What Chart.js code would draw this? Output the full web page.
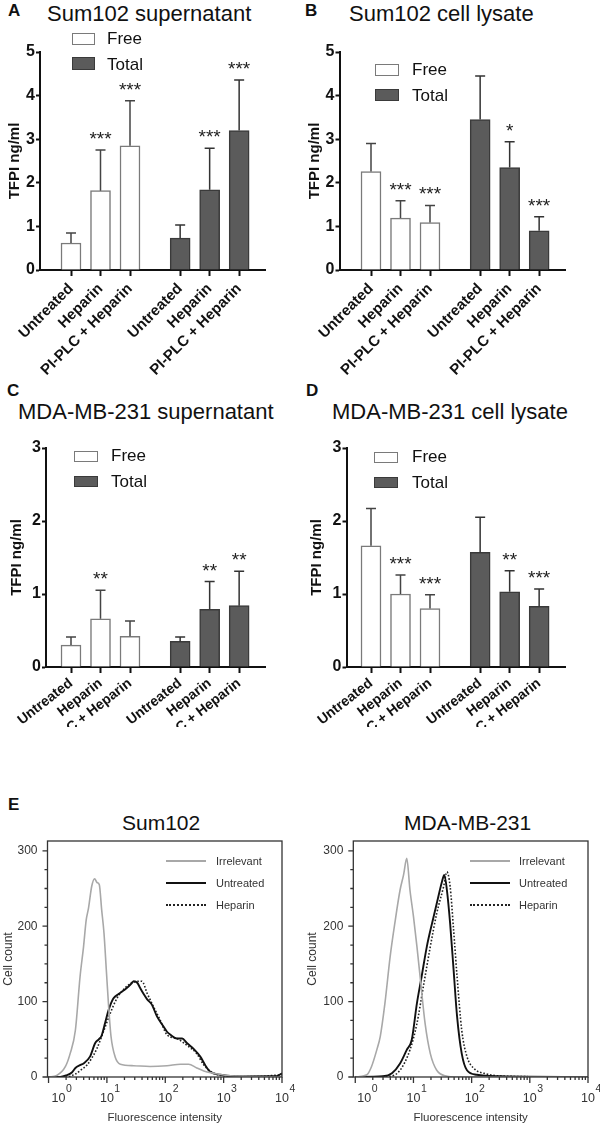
<!DOCTYPE html>
<html>
<head>
<meta charset="utf-8">
<script src="https://cdn.jsdelivr.net/npm/chart.js@4.4.1/dist/chart.umd.min.js"></script>
<style>
html,body{margin:0;padding:0;background:#fff;}
body{width:600px;height:1125px;position:relative;overflow:hidden;font-family:"Liberation Sans",Arial,sans-serif;color:#111;}
.p{position:absolute;}
.t{position:absolute;white-space:nowrap;line-height:1;}
.lbl{font-size:17px;font-weight:bold;}
.ttl{font-size:22px;}
.lg{font-size:17px;}
.box{position:absolute;box-sizing:border-box;}
.bf{background:#fff;border:1.5px solid #7a7a7a;}
.bt{background:#5b5b5b;border:1.5px solid #3a3a3a;}
.hl{position:absolute;height:0;width:40px;}
.hlt{position:absolute;font-size:11px;line-height:1;color:#333;white-space:nowrap;}
</style>
</head>
<body>
<!-- panel letters and titles -->
<div class="t lbl" style="left:8px;top:2px">A</div>
<div class="t ttl" style="left:47px;top:3px">Sum102 supernatant</div>
<div class="t lbl" style="left:305px;top:2px">B</div>
<div class="t ttl" style="left:349px;top:3px">Sum102 cell lysate</div>
<div class="t lbl" style="left:7px;top:382px">C</div>
<div class="t ttl" style="left:18px;top:401px">MDA-MB-231 supernatant</div>
<div class="t lbl" style="left:306px;top:382px">D</div>
<div class="t ttl" style="left:332px;top:401px">MDA-MB-231 cell lysate</div>
<div class="t lbl" style="left:8px;top:796px">E</div>
<div class="t" style="left:122px;top:812px;font-size:21px">Sum102</div>
<div class="t" style="left:404px;top:812px;font-size:21px">MDA-MB-231</div>

<div class="p" style="left:0;top:0;width:300px;height:380px"><canvas id="cA"></canvas></div>
<div class="p" style="left:300px;top:0;width:300px;height:380px"><canvas id="cB"></canvas></div>
<div class="p" style="left:0;top:380px;width:300px;height:347px"><canvas id="cC"></canvas></div>
<div class="p" style="left:300px;top:380px;width:300px;height:347px"><canvas id="cD"></canvas></div>
<div class="p" style="left:0;top:790px;width:300px;height:335px"><canvas id="cE1"></canvas></div>
<div class="p" style="left:300px;top:790px;width:300px;height:335px"><canvas id="cE2"></canvas></div>

<!-- bar legends -->
<div class="box bf" style="left:72px;top:33px;width:23px;height:12px"></div>
<div class="t lg" style="left:107px;top:30px">Free</div>
<div class="box bt" style="left:72px;top:57px;width:23px;height:13px"></div>
<div class="t lg" style="left:107px;top:56px">Total</div>

<div class="box bf" style="left:375px;top:64px;width:24px;height:12px"></div>
<div class="t lg" style="left:412px;top:61px">Free</div>
<div class="box bt" style="left:375px;top:89px;width:24px;height:12px"></div>
<div class="t lg" style="left:412px;top:87px">Total</div>

<div class="box bf" style="left:74px;top:451px;width:24px;height:11px"></div>
<div class="t lg" style="left:111px;top:447px">Free</div>
<div class="box bt" style="left:74px;top:476px;width:24px;height:11px"></div>
<div class="t lg" style="left:111px;top:473px">Total</div>

<div class="box bf" style="left:374px;top:452px;width:24px;height:11px"></div>
<div class="t lg" style="left:412px;top:448px">Free</div>
<div class="box bt" style="left:374px;top:477px;width:24px;height:11px"></div>
<div class="t lg" style="left:412px;top:474px">Total</div>

<!-- histogram legends -->
<div class="hl" style="left:166px;top:860px;border-top:2px solid #a8a8a8"></div>
<div class="hlt" style="left:216px;top:856px">Irrelevant</div>
<div class="hl" style="left:166px;top:882px;border-top:2px solid #111"></div>
<div class="hlt" style="left:216px;top:878px">Untreated</div>
<div class="hl" style="left:166px;top:904px;border-top:2px dotted #222"></div>
<div class="hlt" style="left:216px;top:900px">Heparin</div>

<div class="hl" style="left:470px;top:860px;border-top:2px solid #a8a8a8"></div>
<div class="hlt" style="left:519px;top:856px">Irrelevant</div>
<div class="hl" style="left:470px;top:882px;border-top:2px solid #111"></div>
<div class="hlt" style="left:519px;top:878px">Untreated</div>
<div class="hl" style="left:470px;top:904px;border-top:2px dotted #222"></div>
<div class="hlt" style="left:519px;top:900px">Heparin</div>

<script>
// ---------------- data ----------------
const treatments = ['Untreated', 'Heparin', 'PI-PLC + Heparin'];
const seriesNames = ['Free', 'Total'];
const yAxisTitle = 'TFPI ng/ml';

// A: Sum102 supernatant
const aFree = [0.62, 1.82, 2.85];
const aFreeSD = [0.23, 0.93, 1.03];
const aTotal = [0.73, 1.84, 3.20];
const aTotalSD = [0.30, 0.95, 1.16];
const aFreeSig = ['', '***', '***'];
const aTotalSig = ['', '***', '***'];

// B: Sum102 cell lysate
const bFree = [2.26, 1.19, 1.09];
const bFreeSD = [0.64, 0.40, 0.39];
const bTotal = [3.45, 2.35, 0.90];
const bTotalSD = [1.00, 0.59, 0.32];
const bFreeSig = ['', '***', '***'];
const bTotalSig = ['', '*', '***'];

// C: MDA-MB-231 supernatant
const cFree = [0.30, 0.66, 0.42];
const cFreeSD = [0.11, 0.39, 0.21];
const cTotal = [0.35, 0.79, 0.84];
const cTotalSD = [0.06, 0.38, 0.47];
const cFreeSig = ['', '**', ''];
const cTotalSig = ['', '**', '**'];

// D: MDA-MB-231 cell lysate
const dFree = [1.66, 1.00, 0.80];
const dFreeSD = [0.51, 0.26, 0.19];
const dTotal = [1.57, 1.03, 0.83];
const dTotalSD = [0.48, 0.29, 0.24];
const dFreeSig = ['', '***', '***'];
const dTotalSig = ['', '**', '***'];

// E: flow cytometry histograms (log10 fluorescence, cell count)
const histLegend = ['Irrelevant', 'Untreated', 'Heparin'];
const sumIrrLog   = [0, 0.14, 0.29, 0.37, 0.46, 0.54, 0.60, 0.645, 0.685, 0.74, 0.79, 0.83, 0.87, 0.91, 0.95, 0.99, 1.03, 1.07, 1.14, 1.23, 1.46, 1.74, 2.03, 2.26, 2.40, 2.54, 2.66, 2.83, 3.06, 3.46, 4.0];
const sumIrrCount = [0, 2, 14, 31, 62, 133, 173, 208, 224, 253, 263, 258, 255, 222, 191, 142, 93, 54, 27, 17, 15, 14, 15, 17, 17, 12, 8, 5, 2, 1, 0];
const sumUntLog   = [0, 0.2, 0.3, 0.4, 0.46, 0.55, 0.6, 0.71, 0.8, 0.86, 0.91, 0.97, 1.03, 1.11, 1.2, 1.29, 1.37, 1.42, 1.46, 1.52, 1.57, 1.63, 1.69, 1.77, 1.86, 1.97, 2.03, 2.09, 2.2, 2.29, 2.37, 2.49, 2.6, 2.69, 2.77, 2.94, 3.17, 3.5, 3.9, 4.0];
const sumUntCount = [0, 0, 2, 6, 12, 16, 18, 27, 45, 50, 55, 72, 89, 104, 110, 115, 120, 124, 127, 125, 118, 110, 103, 96, 80, 67, 60, 56, 51, 51, 45, 37, 27, 15, 7, 3, 1, 1, 1, 5];
const sumHepLog   = [0, 0.3, 0.46, 0.55, 0.66, 0.74, 0.83, 0.94, 1.06, 1.17, 1.31, 1.46, 1.6, 1.69, 1.8, 1.91, 2.03, 2.2, 2.37, 2.54, 2.66, 2.83, 3.17, 3.6, 4.0];
const sumHepCount = [0, 0, 4, 9, 16, 25, 38, 60, 85, 104, 118, 126, 127, 111, 93, 76, 56, 51, 42, 31, 16, 5, 1, 1, 3];
const mdaIrrLog   = [0, 0.2, 0.28, 0.37, 0.43, 0.51, 0.6, 0.68, 0.77, 0.83, 0.885, 0.94, 1.0, 1.06, 1.12, 1.2, 1.29, 1.4, 1.58, 1.7, 4.0];
const mdaIrrCount = [0, 3, 14, 36, 54, 98, 160, 204, 248, 268, 290, 248, 213, 173, 129, 71, 31, 9, 1, 0, 0];
const mdaUntLog   = [0, 0.48, 0.63, 0.77, 0.885, 0.97, 1.06, 1.14, 1.23, 1.32, 1.4, 1.49, 1.53, 1.575, 1.63, 1.69, 1.75, 1.83, 1.92, 2.09, 2.5, 4.0];
const mdaUntCount = [0, 1, 5, 18, 36, 49, 98, 133, 173, 204, 230, 259, 268, 248, 204, 142, 80, 31, 9, 3, 1, 0];
const mdaHepLog   = [0, 0.6, 0.77, 0.94, 1.06, 1.17, 1.29, 1.4, 1.52, 1.575, 1.63, 1.69, 1.75, 1.83, 1.92, 2.03, 2.26, 2.61, 4.0];
const mdaHepCount = [0, 1, 9, 36, 71, 120, 173, 217, 253, 272, 253, 195, 133, 62, 27, 12, 4, 1, 0];

// ---------------- rendering ----------------
const FONT = '"Liberation Sans", Arial, sans-serif';
Chart.defaults.font.family = FONT;
Chart.defaults.color = '#111';

const GROUP_GAP = 3.7;      // category units between the first bars of the two groups
const UNIT_PX = 29.5;       // px per category unit
const FIRST_CENTER = 71;    // px of first bar centre within its canvas
const AXIS_RIGHT = 265;     // px of x-axis end within its canvas

const errorBarPlugin = {
  id: 'errbars',
  afterDatasetsDraw(chart) {
    const {ctx} = chart;
    const ys = chart.scales.y;
    chart.data.datasets.forEach((ds, di) => {
      const meta = chart.getDatasetMeta(di);
      meta.data.forEach((bar, i) => {
        const v = ds.data[i].y, sd = ds.sd[i];
        const yTop = ys.getPixelForValue(v + sd);
        ctx.save();
        ctx.strokeStyle = ds.errColor;
        ctx.lineWidth = 1.5;
        ctx.beginPath();
        ctx.moveTo(bar.x, bar.y);
        ctx.lineTo(bar.x, yTop);
        ctx.moveTo(bar.x - 5, yTop);
        ctx.lineTo(bar.x + 5, yTop);
        ctx.stroke();
        if (ds.sig[i]) {
          ctx.fillStyle = '#222';
          ctx.font = '19px ' + FONT;
          ctx.textAlign = 'center';
          ctx.textBaseline = 'alphabetic';
          ctx.fillText(ds.sig[i], bar.x, yTop - 5);
        }
        ctx.restore();
      });
    });
  }
};

function barPanel(id, P) {
  const pos = (g, i) => g * GROUP_GAP + i;
  const mk = (vals, g) => vals.map((v, i) => ({x: pos(g, i), y: v}));
  const tickVals = [0, 1].flatMap(g => treatments.map((_, i) => pos(g, i)));
  const tickLabels = [0, 1].flatMap(() => treatments);
  const xMin = -(FIRST_CENTER - P.yAxisW) / UNIT_PX;
  const xMax = pos(1, 2) + (AXIS_RIGHT - (FIRST_CENTER + pos(1, 2) * UNIT_PX)) / UNIT_PX;
  new Chart(document.getElementById(id), {
    type: 'bar',
    data: {
      datasets: [
        {label: seriesNames[0], data: mk(P.free, 0), sd: P.freeSD, sig: P.freeSig,
         backgroundColor: '#ffffff', borderColor: '#7a7a7a', borderWidth: 1.5,
         barThickness: 20, grouped: false, errColor: '#444'},
        {label: seriesNames[1], data: mk(P.total, 1), sd: P.totalSD, sig: P.totalSig,
         backgroundColor: '#5b5b5b', borderColor: '#3a3a3a', borderWidth: 1.5,
         barThickness: 20, grouped: false, errColor: '#333'}
      ]
    },
    options: {
      responsive: true, maintainAspectRatio: false, animation: false, devicePixelRatio: 1,
      layout: {padding: {top: P.padTop, right: P.padRight, left: 0, bottom: 0}},
      plugins: {legend: {display: false}, tooltip: {enabled: false}},
      scales: {
        x: {
          type: 'linear', min: xMin, max: xMax, offset: false,
          grid: {display: true, drawOnChartArea: false, drawTicks: true, tickLength: 6, tickWidth: 2, tickColor: '#111', offset: false},
          border: {display: true, width: 2, color: '#111'},
          afterBuildTicks: s => { s.ticks = tickVals.map(v => ({value: v})); },
          afterFit: s => { s.height = P.xAxisH; },
          ticks: {autoSkip: false, minRotation: P.rot, maxRotation: P.rot, padding: P.tickPad, color: '#111',
                  font: {size: P.tickFont, weight: 'bold'}, callback: (v, i) => tickLabels[i]}
        },
        y: {
          min: 0, max: P.yMax,
          grid: {drawOnChartArea: false, drawTicks: true, tickLength: 4, tickWidth: 2, tickColor: '#111'},
          border: {display: true, width: 2, color: '#111'},
          ticks: {stepSize: 1, padding: 1, color: '#111', font: {size: 16, weight: 'bold'}},
          title: {display: true, text: yAxisTitle, color: '#111', font: {size: 15, weight: 'bold'},
                  padding: {top: P.titlePad, bottom: 0}},
          afterFit: s => { s.width = P.yAxisW; }
        }
      }
    },
    plugins: [errorBarPlugin]
  });
}

barPanel('cA', {free: aFree, freeSD: aFreeSD, total: aTotal, totalSD: aTotalSD, freeSig: aFreeSig, totalSig: aTotalSig,
  yMax: 5, yAxisW: 40, xAxisH: 110, padTop: 52, padRight: 35, titlePad: 6, tickPad: 4, rot: 45, tickFont: 15});
barPanel('cB', {free: bFree, freeSD: bFreeSD, total: bTotal, totalSD: bTotalSD, freeSig: bFreeSig, totalSig: bTotalSig,
  yMax: 5, yAxisW: 39.5, xAxisH: 110, padTop: 52, padRight: 35, titlePad: 6, tickPad: 4, rot: 45, tickFont: 15});
barPanel('cC', {free: cFree, freeSD: cFreeSD, total: cTotal, totalSD: cTotalSD, freeSig: cFreeSig, totalSig: cTotalSig,
  yMax: 3, yAxisW: 46, xAxisH: 60, padTop: 68, padRight: 35, titlePad: 7.5, tickPad: 2, rot: 38, tickFont: 14});
barPanel('cD', {free: dFree, freeSD: dFreeSD, total: dTotal, totalSD: dTotalSD, freeSig: dFreeSig, totalSig: dTotalSig,
  yMax: 3, yAxisW: 46.5, xAxisH: 60, padTop: 68, padRight: 35, titlePad: 7.5, tickPad: 2, rot: 38, tickFont: 14});

const histAxesPlugin = {
  id: 'histAxes',
  afterDraw(chart) {
    const {ctx, chartArea: a, scales: {x, y}} = chart;
    ctx.save();
    ctx.strokeStyle = '#333';
    ctx.lineWidth = 1.3;
    ctx.strokeRect(a.left, a.top, a.right - a.left, a.bottom - a.top);
    ctx.fillStyle = '#333';
    ctx.beginPath();
    for (let v = 0; v <= 300; v += 25) {
      const py = y.getPixelForValue(v);
      const major = v % 100 === 0;
      ctx.moveTo(a.left - (major ? 5 : 3), py);
      ctx.lineTo(a.left, py);
    }
    for (let d = 0; d <= 4; d++) {
      for (let m = 1; m <= (d === 4 ? 1 : 9); m++) {
        const px = x.getPixelForValue(m * Math.pow(10, d));
        ctx.moveTo(px, a.bottom);
        ctx.lineTo(px, a.bottom + (m === 1 ? 6 : 3));
      }
    }
    ctx.stroke();
    ctx.font = '12px ' + FONT;
    ctx.textAlign = 'right';
    ctx.textBaseline = 'middle';
    for (let v = 0; v <= 300; v += 100) {
      ctx.fillText(String(v), a.left - 10, y.getPixelForValue(v));
    }
    for (let d = 0; d <= 4; d++) {
      const px = x.getPixelForValue(Math.pow(10, d));
      ctx.font = '12.5px ' + FONT;
      const w = ctx.measureText('10').width;
      const cx = d === 0 ? a.left + 4 + w / 2 : px;
      ctx.textAlign = 'center';
      ctx.textBaseline = 'alphabetic';
      ctx.fillText('10', cx, a.bottom + 24.5);
      ctx.font = '10.5px ' + FONT;
      ctx.textAlign = 'left';
      ctx.fillText(String(d), cx + w / 2 + 0.5, a.bottom + 14.5);
    }
    ctx.restore();
  }
};

function histPanel(id, H) {
  const toPts = (ex, ct) => ex.map((e, i) => ({x: Math.pow(10, e), y: ct[i]}));
  new Chart(document.getElementById(id), {
    type: 'line',
    data: {
      datasets: [
        {label: histLegend[0], data: toPts(H.irrLog, H.irrCount), borderColor: '#a8a8a8', borderWidth: 1.6},
        {label: histLegend[1], data: toPts(H.untLog, H.untCount), borderColor: '#111', borderWidth: 1.9},
        {label: histLegend[2], data: toPts(H.hepLog, H.hepCount), borderColor: '#222', borderWidth: 1.6, borderDash: [1.6, 1.8]}
      ]
    },
    options: {
      responsive: true, maintainAspectRatio: false, animation: false, devicePixelRatio: 1,
      elements: {point: {radius: 0}, line: {cubicInterpolationMode: 'monotone'}},
      layout: {padding: {top: 51, right: H.padRight, left: 0, bottom: 0}},
      plugins: {legend: {display: false}, tooltip: {enabled: false}},
      scales: {
        x: {
          type: 'logarithmic', min: H.xMin, max: 10000,
          grid: {display: false}, border: {display: false}, ticks: {display: false},
          afterFit: s => { s.height = 48; },
          title: {display: true, text: 'Fluorescence intensity', color: '#333', font: {size: 11.5}, padding: {top: 0, bottom: 0.5}}
        },
        y: {
          type: 'linear', min: 0, max: 313,
          grid: {display: false}, border: {display: false}, ticks: {display: false},
          afterFit: s => { s.width = H.yW; },
          title: {display: true, text: 'Cell count', color: '#333', font: {size: 12}, padding: {top: H.yTitlePad, bottom: 0}}
        }
      }
    },
    plugins: [histAxesPlugin]
  });
}

histPanel('cE1', {irrLog: sumIrrLog, irrCount: sumIrrCount, untLog: sumUntLog, untCount: sumUntCount,
  hepLog: sumHepLog, hepCount: sumHepCount, xMin: 0.96, yW: 47.5, padRight: 18, yTitlePad: 1.8});
histPanel('cE2', {irrLog: mdaIrrLog, irrCount: mdaIrrCount, untLog: mdaUntLog, untCount: mdaUntCount,
  hepLog: mdaHepLog, hepCount: mdaHepCount, xMin: 0.925, yW: 53.3, padRight: 12, yTitlePad: 5.8});
</script>
</body>
</html>
